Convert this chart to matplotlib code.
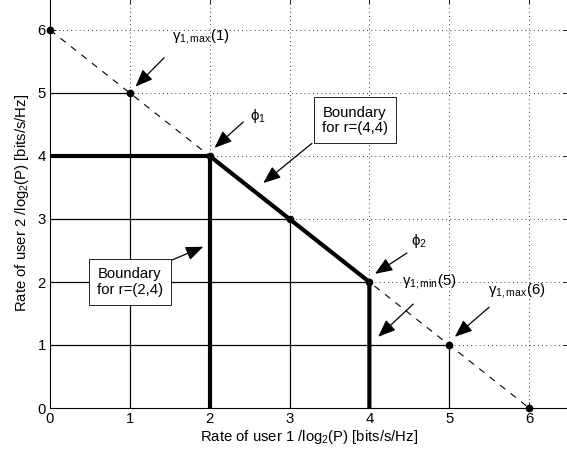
import matplotlib
matplotlib.use("Agg")
import matplotlib.pyplot as plt

# data
rate1 = [0, 1, 2, 3, 4, 5, 6]
rate2 = [6, 5, 4, 3, 2, 1, 0]
thin_corners = [1, 3, 4, 5]          # indices of points with thin boxes
bound44_x = [0, 2, 3, 4, 4]
bound44_y = [4, 4, 3, 2, 0]
bound24_x = [2, 2]
bound24_y = [4, 0]
xticks = [0, 1, 2, 3, 4, 5, 6]
yticks = [0, 1, 2, 3, 4, 5, 6]

plt.rcParams['font.family'] = ['Liberation Sans', 'DejaVu Sans']
plt.rcParams['mathtext.fontset'] = 'custom'
plt.rcParams['mathtext.rm'] = 'Liberation Sans'
plt.rcParams['mathtext.it'] = 'Liberation Sans:italic'
plt.rcParams['font.size'] = 10.7

fig = plt.figure(figsize=(5.67, 4.51), dpi=100)
ax = fig.add_axes([50/567, 43/451, 519/567, 409.5/451])

ax.set_xlim(0, 6.5)
ax.set_ylim(0, 6.5)
ax.set_xticks(xticks)
ax.set_yticks(yticks)
ax.tick_params(direction='in', top=True, right=True, length=4, width=0.6, labelsize=10.7, pad=3)
ax.grid(True, linestyle=(0, (1, 4)), color='black', linewidth=0.6)
for s in ax.spines.values():
    s.set_linewidth(0.8)

# thin rectangles
for i in thin_corners:
    ax.plot([0, rate1[i], rate1[i]], [rate2[i], rate2[i], 0], color='black', lw=0.9, zorder=3)

# dashed line
ax.plot(rate1, rate2, color='black', lw=0.8, linestyle=(0, (6, 6)), zorder=3)

# thick boundaries
ax.plot(bound44_x, bound44_y, color='black', lw=3, solid_joinstyle='miter', zorder=4)
ax.plot(bound24_x, bound24_y, color='black', lw=3, zorder=4)

# points
ax.plot(rate1, rate2, 'o', color='black', markersize=4.5, zorder=5, clip_on=False)

ax.set_xlabel('Rate of user 1 /log$_2$(P) [bits/s/Hz]', labelpad=1)
ax.set_ylabel('Rate of user 2 /log$_2$(P) [bits/s/Hz]', labelpad=5)

ap = dict(arrowstyle='-|>,head_length=1.0,head_width=0.4', color='black', lw=0.9,
          shrinkA=0, shrinkB=0)

ax.annotate('', xy=(1.07, 5.1), xytext=(1.43, 5.56), arrowprops=ap)
ax.text(1.53, 5.9, 'γ$_{\\mathrm{1,max}}$(1)', ha='left', va='center')

ax.annotate('', xy=(2.06, 4.13), xytext=(2.42, 4.54), arrowprops=ap)
ax.text(2.5, 4.64, 'ϕ$_1$', ha='left', va='center')

ax.annotate('', xy=(4.07, 2.13), xytext=(4.47, 2.46), arrowprops=ap)
ax.text(4.52, 2.65, 'ϕ$_2$', ha='left', va='center')

ax.annotate('', xy=(4.11, 1.13), xytext=(4.55, 1.65), arrowprops=ap)
ax.text(4.41, 2.0, 'γ$_{\\mathrm{1,min}}$(5)', ha='left', va='center')

ax.annotate('', xy=(5.07, 1.13), xytext=(5.5, 1.6), arrowprops=ap)
ax.text(5.49, 1.87, 'γ$_{\\mathrm{1,max}}$(6)', ha='left', va='center')

bbox = dict(boxstyle='square,pad=0.55', facecolor='white', edgecolor='black', lw=0.6)
ax.annotate('', xy=(2.67, 3.57), xytext=(3.28, 4.2), arrowprops=ap)
ax.text(3.82, 4.57, 'Boundary\nfor r=(4,4)', ha='center', va='center', bbox=bbox,
        linespacing=1.1, zorder=6)

ax.annotate('', xy=(1.92, 2.56), xytext=(1.53, 2.35), arrowprops=ap)
ax.text(1.0, 2.0, 'Boundary\nfor r=(2,4)', ha='center', va='center', bbox=bbox,
        linespacing=1.1, zorder=6)

fig.savefig('out.png', dpi=100)
